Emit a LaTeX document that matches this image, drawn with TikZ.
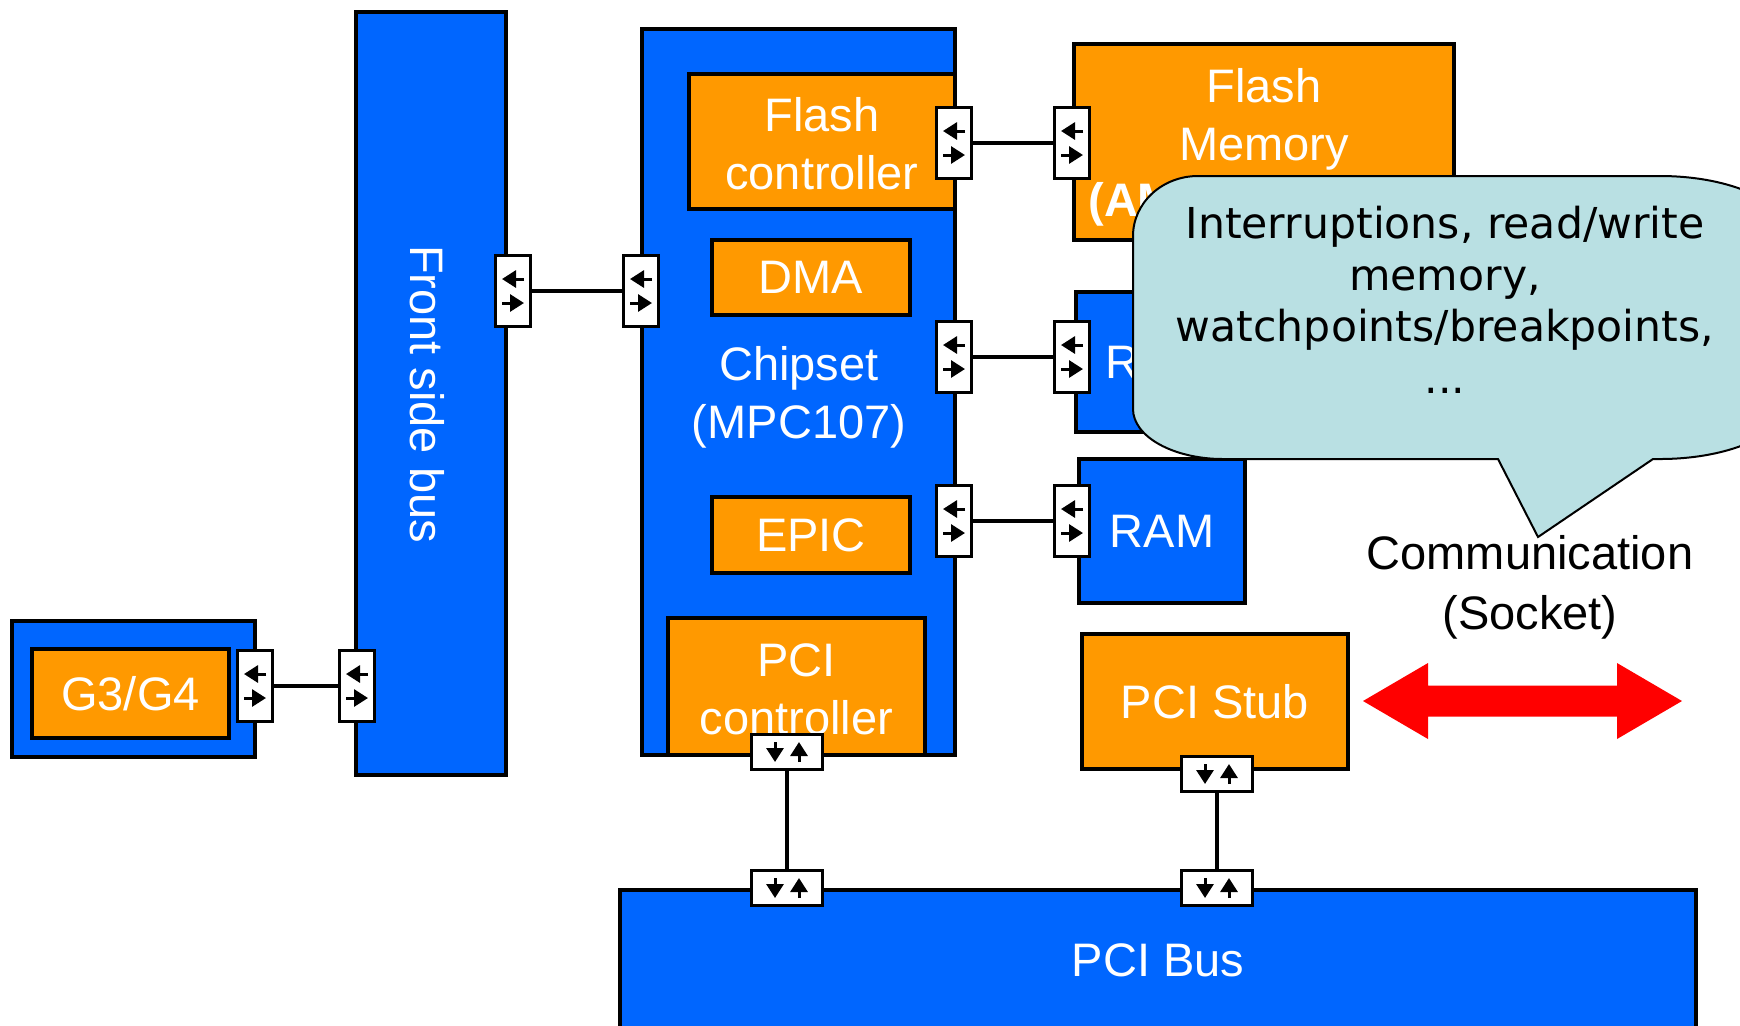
\documentclass[tikz,border=0pt]{standalone}
\usepackage{fontspec}
\setmainfont{Liberation Sans}
\newfontfamily\calloutfont{DejaVu Sans}
\usetikzlibrary{arrows.meta}
\definecolor{bblue}{RGB}{0,102,255}
\definecolor{borange}{RGB}{255,153,0}
\definecolor{callbg}{RGB}{185,224,227}
\definecolor{bred}{RGB}{255,0,0}
\begin{document}
\begin{tikzpicture}[x=0.5pt,y=-0.5pt,
  box/.style={draw=black, line width=1.7pt, inner sep=0pt, text=white, align=center,
    font=\fontsize{23.5}{29}\selectfont},
  bluebox/.style={box, fill=bblue},
  orangebox/.style={box, fill=borange},
  wtext/.style={text=white, align=center, inner sep=0pt, font=\fontsize{23.5}{29}\selectfont},
  btext/.style={text=black, align=center, inner sep=0pt, font=\fontsize{23.5}{30}\selectfont},
  arr/.style={line width=1.5pt, -{Triangle[length=7pt,width=8.5pt]}},
  hport/.style={draw=black, fill=white, line width=1.7pt, inner sep=0pt,
    minimum width=17.5pt, minimum height=35.5pt,
    path picture={
      \draw[arr] ([xshift=5.5pt,yshift=6pt]path picture bounding box.center) -- ([xshift=-5.5pt,yshift=6pt]path picture bounding box.center);
      \draw[arr] ([xshift=-5.5pt,yshift=-6pt]path picture bounding box.center) -- ([xshift=5.5pt,yshift=-6pt]path picture bounding box.center);
    }},
  vport/.style={draw=black, fill=white, line width=1.7pt, inner sep=0pt,
    minimum width=35.5pt, minimum height=17.5pt,
    path picture={
      \draw[arr] ([xshift=-6pt,yshift=5pt]path picture bounding box.center) -- ([xshift=-6pt,yshift=-5pt]path picture bounding box.center);
      \draw[arr] ([xshift=6pt,yshift=-5pt]path picture bounding box.center) -- ([xshift=6pt,yshift=5pt]path picture bounding box.center);
    }},
  conn/.style={line width=1.7pt, draw=black},
]
\useasboundingbox (0,0) rectangle (1740,1025);
\clip (0,0) rectangle (1740,1025);
\fill[white] (0,0) rectangle (1740,1025);

% Front side bus
\node[bluebox, minimum width=75pt, minimum height=381.5pt] (fsb) at (431,393.5) {};
\node[wtext, rotate=-90] (fsbtext) at (427,394) {Front side bus};

% Chipset
\node[bluebox, minimum width=156.5pt, minimum height=363pt] (chip) at (798.5,392) {};
\node[wtext] (chiptext) at (799,397) {Chipset\\(MPC107)};
\node[orangebox, minimum width=133pt, minimum height=67.5pt] (fc) at (822,141.5) {};
\node[wtext] (fctext) at (822,144) {Flash\\controller};
\node[orangebox, minimum width=99pt, minimum height=37.5pt] (dma) at (811,277.5) {DMA};
\node[orangebox, minimum width=99pt, minimum height=38pt] (epic) at (811,535) {EPIC};
\node[orangebox, minimum width=128.5pt, minimum height=68.5pt] (pcic) at (796.5,686.5) {};
\node[wtext] (pcictext) at (796.5,689.5) {PCI\\controller};

% G3/G4
\node[bluebox, minimum width=121.5pt, minimum height=68pt] (g3o) at (133.5,689) {};
\node[orangebox, minimum width=98.5pt, minimum height=44.5pt] (g3) at (130.5,693.5) {G3/G4};

% Flash memory, ROM, RAM
\node[orangebox, minimum width=190pt, minimum height=98pt] (fm) at (1264,142) {};
\node[wtext] (fmtext) at (1264,119) {Flash\\Memory};
\node[wtext, anchor=west, font=\fontsize{23.5}{29}\selectfont\bfseries] (fmtext2) at (1088,204) {(AM};
\node[bluebox, minimum width=84.5pt, minimum height=70pt] (rom) at (1160.5,362) {};
\node[wtext, anchor=west] (romtext) at (1105,362) {R};
\node[bluebox, minimum width=83pt, minimum height=72pt] (ram) at (1162,531) {RAM};

% PCI stub and bus
\node[orangebox, minimum width=133pt, minimum height=67.5pt] (stub) at (1215,701.5) {PCI Stub};
\node[bluebox, minimum width=538pt, minimum height=75pt] (bus) at (1158,965) {};
\node[wtext] (bustext) at (1158,960) {PCI Bus};

% ports
\node[hport] (g3R) at (255,686) {};
\node[hport] (fsbL) at (357,686) {};
\node[hport] (fsbR) at (513,291) {};
\node[hport] (chipL) at (641,291) {};
\node[hport] (fcR) at (954,143) {};
\node[hport] (fmL) at (1072,143) {};
\node[hport] (chipM) at (954,357) {};
\node[hport] (romL) at (1072,357) {};
\node[hport] (chipE) at (954,521) {};
\node[hport] (ramL) at (1072,521) {};
\node[vport] (pcicB) at (787,752) {};
\node[vport] (busL) at (787,888) {};
\node[vport] (stubB) at (1217,774) {};
\node[vport] (busR) at (1217,888) {};

% connectors
\draw[conn] (g3R) -- (fsbL);
\draw[conn] (fsbR) -- (chipL);
\draw[conn] (fcR) -- (fmL);
\draw[conn] (chipM) -- (romL);
\draw[conn] (chipE) -- (ramL);
\draw[conn] (pcicB) -- (busL);
\draw[conn] (stubB) -- (busR);

% callout
\draw[fill=callbg, line width=1pt] (1133,236) .. controls (1133,202.9) and (1162.1,176) .. (1198,176)
  -- (1660,176) .. controls (1731.8,176) and (1790,202.9) .. (1790,236)
  -- (1790,399) .. controls (1790,432.1) and (1731.8,459) .. (1660,459)
  -- (1653,459) -- (1538,537) -- (1498,459) -- (1223,459)
  .. controls (1173.3,459) and (1133,436.6) .. (1133,409) -- cycle;
\node[align=center, inner sep=0pt, font=\calloutfont\fontsize{21.3}{25.8}\selectfont] (calltext) at (1445,300)
  {Interruptions, read/write\\memory,\\watchpoints/breakpoints,\\...};

% communication
\node[btext] (comm) at (1530,587) {Communication\\(Socket)};
\fill[bred] (1363,701) -- (1428,663) -- (1428,685.5) -- (1617,685.5) -- (1617,663) -- (1682,701)
  -- (1617,739) -- (1617,716.5) -- (1428,716.5) -- (1428,739) -- cycle;
\end{tikzpicture}
\end{document}
